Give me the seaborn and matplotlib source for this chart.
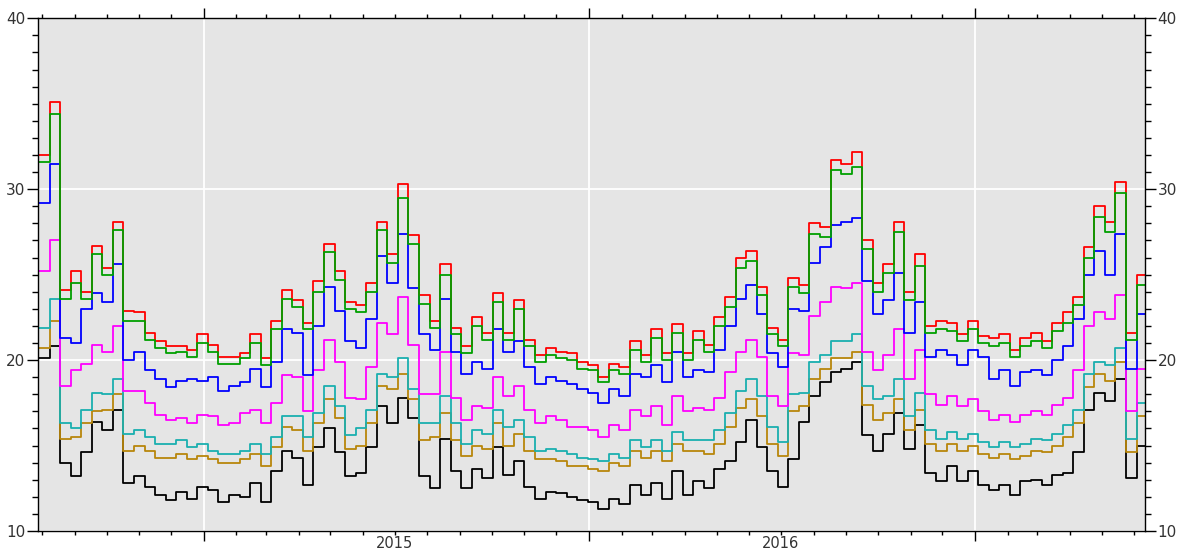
import matplotlib
matplotlib.use("Agg")
import matplotlib.pyplot as plt
import matplotlib.dates as mdates
from matplotlib.ticker import MultipleLocator, FuncFormatter
import seaborn as sns
import pandas as pd

start_date = "2014-07-29"
step = "10D"

red = [32.0, 35.1, 24.1, 25.2, 24.0, 26.7, 25.4, 28.1, 22.9, 22.8, 21.6, 21.1, 20.8, 20.8, 20.6, 21.5, 20.9, 20.2, 20.2, 20.4,
       21.5, 20.1, 22.3, 24.1, 23.5, 22.2, 24.6, 26.8, 25.2, 23.4, 23.2, 24.5, 28.1, 26.2, 30.3, 27.3, 23.8, 22.3, 25.6, 21.9,
       20.8, 22.5, 21.6, 23.9, 21.6, 23.5, 21.2, 20.3, 20.7, 20.5, 20.4, 19.9, 19.7, 19.0, 19.8, 19.6, 21.1, 20.3, 21.8, 20.4,
       22.1, 20.4, 21.7, 20.9, 22.5, 23.7, 26.0, 26.4, 24.3, 21.9, 21.2, 24.8, 24.4, 28.0, 27.8, 31.7, 31.5, 32.2, 27.0, 24.5,
       25.6, 28.1, 24.0, 26.2, 22.0, 22.3, 22.2, 21.5, 22.3, 21.4, 21.3, 21.5, 20.6, 21.3, 21.6, 21.1, 22.2, 22.8, 23.7, 26.6,
       29.0, 28.1, 30.4, 21.6, 25.0, 22.8]
green = [31.6, 34.4, 23.6, 24.5, 23.6, 26.2, 25.0, 27.6, 22.3, 22.3, 21.2, 20.7, 20.4, 20.5, 20.2, 21.0, 20.5, 19.8, 19.8, 20.1,
         21.0, 19.7, 21.8, 23.6, 23.1, 21.8, 24.0, 26.3, 24.7, 23.0, 22.8, 24.0, 27.6, 25.7, 29.5, 26.8, 23.3, 21.9, 25.0, 21.5,
         20.4, 22.0, 21.2, 23.4, 21.2, 23.0, 20.8, 19.9, 20.3, 20.1, 20.0, 19.5, 19.4, 18.7, 19.4, 19.2, 20.6, 19.9, 21.3, 20.0,
         21.6, 20.0, 21.2, 20.5, 22.0, 23.1, 25.4, 25.8, 23.8, 21.5, 20.8, 24.3, 23.9, 27.4, 27.2, 31.1, 30.9, 31.3, 26.5, 24.0,
         25.1, 27.5, 23.5, 25.5, 21.6, 21.8, 21.7, 21.1, 21.8, 21.0, 20.8, 21.0, 20.2, 20.8, 21.1, 20.7, 21.7, 22.2, 23.2, 26.0,
         28.4, 27.5, 29.8, 21.2, 24.4, 22.4]
blue = [29.2, 31.5, 21.3, 21.0, 23.0, 23.9, 23.4, 25.6, 20.0, 20.5, 19.4, 18.9, 18.4, 18.8, 18.9, 18.8, 19.0, 18.2, 18.5, 18.7,
        19.5, 18.4, 19.9, 21.8, 21.6, 19.1, 22.0, 24.3, 22.9, 21.1, 20.7, 22.4, 26.1, 24.5, 27.4, 24.2, 21.5, 20.6, 23.6, 20.5,
        19.2, 19.9, 19.5, 21.8, 20.5, 21.1, 19.6, 18.6, 19.0, 18.8, 18.6, 18.3, 18.1, 17.5, 18.3, 17.9, 19.2, 19.0, 19.7, 18.7,
        20.5, 19.0, 19.4, 19.3, 20.6, 22.0, 23.6, 24.4, 22.7, 20.4, 19.6, 23.0, 22.9, 25.7, 26.6, 27.9, 28.1, 28.3, 24.6, 22.7,
        23.5, 25.1, 21.6, 23.4, 20.2, 20.6, 20.3, 19.7, 20.6, 20.2, 18.9, 19.4, 18.5, 19.3, 19.4, 19.1, 20.0, 20.8, 22.4, 25.0,
        26.4, 25.0, 27.4, 19.5, 22.7, 21.0]
magenta = [25.2, 27.0, 18.5, 19.4, 19.8, 20.9, 20.5, 22.0, 18.2, 18.2, 17.5, 16.8, 16.5, 16.6, 16.3, 16.8, 16.7, 16.2, 16.3, 16.9,
           17.1, 16.3, 17.5, 19.1, 19.0, 17.0, 19.4, 21.2, 19.9, 17.8, 17.7, 19.6, 22.2, 21.5, 23.7, 20.9, 18.0, 18.0, 20.5, 17.8,
           16.5, 17.3, 17.2, 19.0, 17.9, 18.5, 17.1, 16.3, 16.7, 16.5, 16.1, 16.1, 15.9, 15.5, 16.2, 15.9, 17.1, 16.7, 17.3, 16.2,
           17.9, 17.0, 17.2, 17.1, 17.8, 19.3, 20.5, 21.2, 20.2, 17.9, 17.3, 20.4, 20.3, 22.6, 23.4, 24.3, 24.2, 24.5, 20.5, 19.4,
           20.3, 21.8, 18.9, 20.6, 18.0, 17.4, 17.9, 17.3, 17.7, 17.0, 16.5, 16.8, 16.4, 16.8, 17.0, 16.8, 17.4, 17.8, 19.4, 22.0,
           22.8, 22.4, 23.8, 17.0, 19.5, 18.7]
cyan = [21.9, 23.6, 16.3, 16.0, 17.1, 18.1, 18.0, 18.9, 15.7, 15.9, 15.5, 15.1, 15.1, 15.3, 14.9, 15.1, 14.7, 14.5, 14.5, 14.7,
        15.1, 14.5, 15.5, 16.7, 16.7, 15.5, 16.9, 18.5, 17.3, 15.6, 16.0, 17.1, 19.2, 19.0, 20.1, 18.3, 16.3, 16.3, 17.9, 16.3,
        15.1, 15.9, 15.7, 17.1, 16.1, 16.5, 15.5, 14.7, 14.8, 14.7, 14.5, 14.3, 14.2, 14.1, 14.5, 14.3, 15.3, 14.9, 15.3, 14.7,
        15.8, 15.3, 15.3, 15.3, 15.9, 16.9, 18.2, 18.9, 17.9, 16.1, 15.2, 18.0, 18.1, 19.9, 20.3, 21.1, 21.1, 21.5, 18.5, 17.7,
        17.9, 18.9, 16.7, 18.1, 15.9, 15.4, 15.8, 15.4, 15.7, 15.2, 14.9, 15.2, 14.9, 15.1, 15.4, 15.3, 15.7, 16.2, 17.1, 19.2,
        19.9, 19.7, 20.7, 15.4, 17.5, 16.5]
gold = [20.7, 22.3, 15.4, 15.5, 16.3, 17.0, 17.1, 18.0, 14.7, 15.0, 14.7, 14.3, 14.3, 14.5, 14.2, 14.4, 14.2, 14.0, 14.0, 14.2,
        14.5, 13.8, 14.9, 16.1, 15.9, 14.7, 16.3, 17.7, 16.6, 14.8, 15.0, 16.3, 18.5, 18.3, 19.2, 17.7, 15.3, 15.5, 16.9, 15.3,
        14.4, 15.0, 14.8, 16.3, 15.0, 15.7, 14.7, 14.2, 14.2, 14.1, 13.8, 13.8, 13.6, 13.5, 14.0, 13.8, 14.7, 14.3, 14.7, 14.1,
        15.1, 14.7, 14.7, 14.5, 15.1, 16.1, 17.2, 17.7, 16.7, 15.1, 14.4, 17.0, 17.3, 18.9, 19.5, 20.1, 20.1, 20.5, 17.4, 16.5,
        16.9, 17.7, 15.9, 17.1, 15.1, 14.7, 15.1, 14.7, 15.0, 14.5, 14.3, 14.5, 14.2, 14.4, 14.7, 14.6, 15.0, 15.5, 16.3, 18.4,
        19.2, 18.8, 19.9, 14.6, 16.7, 15.8]
black = [20.1, 20.8, 14.0, 13.2, 14.6, 16.4, 15.9, 17.1, 12.8, 13.2, 12.6, 12.1, 11.8, 12.3, 11.9, 12.6, 12.4, 11.7, 12.1, 12.0,
         12.8, 11.7, 13.5, 14.7, 14.3, 12.7, 14.9, 16.0, 14.6, 13.2, 13.4, 14.9, 17.3, 16.3, 17.8, 16.6, 13.2, 12.5, 15.4, 13.5,
         12.5, 13.6, 13.1, 14.9, 13.3, 14.1, 12.6, 11.9, 12.3, 12.2, 12.0, 11.8, 11.7, 11.3, 11.9, 11.6, 12.7, 12.1, 12.8, 11.9,
         13.5, 12.1, 12.9, 12.5, 13.6, 14.1, 15.2, 16.5, 14.9, 13.5, 12.6, 14.2, 16.4, 17.9, 18.7, 19.3, 19.5, 19.9, 15.6, 14.7,
         15.7, 16.9, 14.8, 16.2, 13.4, 12.9, 13.8, 12.9, 13.5, 12.7, 12.4, 12.7, 12.1, 12.9, 13.0, 12.7, 13.3, 13.4, 14.6, 17.1,
         18.1, 17.6, 18.9, 13.1, 15.0, 14.0]

series_names = ["black", "gold", "cyan", "magenta", "blue", "red", "green"]
series_values = [black, gold, cyan, magenta, blue, red, green]
palette = {"black": "#000000", "gold": "#B8860B", "cyan": "#1AAFAF", "magenta": "#FF00FF",
           "blue": "#0000FF", "red": "#FF0000", "green": "#00A000"}

dates = pd.date_range(start_date, periods=len(green), freq=step)
frames = []
for name, vals in zip(series_names, series_values):
    frames.append(pd.DataFrame({"date": dates, "value": vals, "series": name}))
df = pd.concat(frames, ignore_index=True)

fig = plt.figure(figsize=(11.8, 5.51), dpi=100)
ax = fig.add_axes([38 / 1180, 1 - 531 / 551, (1145 - 38) / 1180, (531 - 18.3) / 551])
ax.set_facecolor("#E5E5E5")

sns.lineplot(data=df, x="date", y="value", hue="series", hue_order=series_names,
             palette=palette, estimator=None, drawstyle="steps-post", linewidth=1.3,
             legend=False, ax=ax)

ax.set_xlim(pd.Timestamp("2014-07-28"), pd.Timestamp("2017-06-11"))
ax.set_ylim(10, 40)
ax.set_xlabel("")
ax.set_ylabel("")

ax.yaxis.set_major_locator(MultipleLocator(10))
ax.yaxis.set_minor_locator(MultipleLocator(1))
ax.xaxis.set_major_locator(mdates.YearLocator())
ax.xaxis.set_minor_locator(mdates.MonthLocator())
ax.xaxis.set_major_formatter(FuncFormatter(lambda v, p: ""))


def minor_fmt(v, p):
    d = mdates.num2date(v)
    return str(d.year) if d.month == 7 else ""


ax.xaxis.set_minor_formatter(FuncFormatter(minor_fmt))

ax.grid(True, which="major", color="white", linewidth=1.3)
ax.set_axisbelow(True)

for s in ax.spines.values():
    s.set_color("#000000")
    s.set_linewidth(1.0)

txt = "#333333"
ax.tick_params(axis="y", which="major", direction="out", length=8, width=1, left=True, right=True,
               labelleft=True, labelright=True, labelsize=11, labelcolor=txt, pad=1)
ax.tick_params(axis="y", which="minor", direction="out", length=4, width=1, left=True, right=True)
ax.tick_params(axis="x", which="major", direction="out", length=7, width=1, top=True, bottom=True,
               labelbottom=False)
ax.tick_params(axis="x", which="minor", direction="out", length=3, width=1, top=True, bottom=True,
               labelsize=10.5, labelcolor=txt, pad=0.5)

fig.savefig("out.png", dpi=100, facecolor="white")
